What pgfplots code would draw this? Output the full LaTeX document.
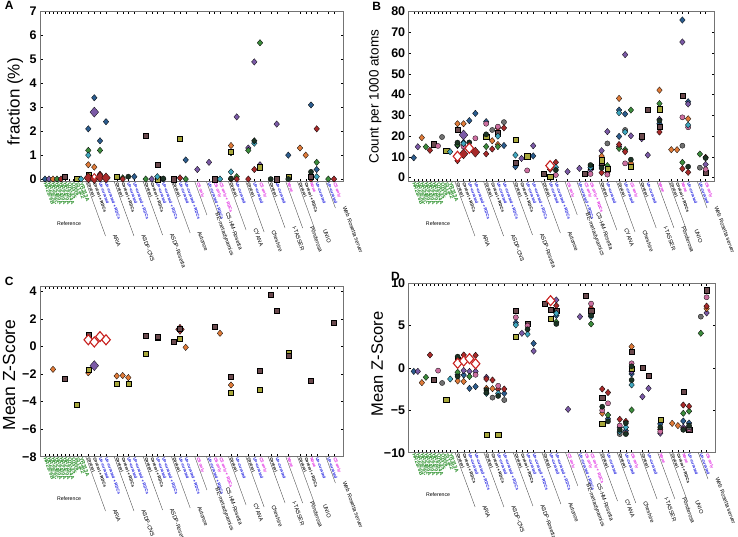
\documentclass[border=0pt]{standalone}
\usepackage{fontspec}
\setmainfont{Liberation Sans}
\usepackage{pgfplots}
\pgfplotsset{compat=1.18}

\definecolor{cblue}{HTML}{2C5D8F}
\definecolor{cpurple}{HTML}{7B5AA6}
\definecolor{corange}{HTML}{E07B39}
\definecolor{cgreen}{HTML}{3C8C3C}
\definecolor{cred}{HTML}{A82A2A}
\definecolor{cbrown}{HTML}{6B4A4E}
\definecolor{cpink}{HTML}{CC6FA0}
\definecolor{cgray}{HTML}{707070}
\definecolor{colive}{HTML}{A8A83C}
\definecolor{cteal}{HTML}{3FA7BF}
\definecolor{cdark}{HTML}{1C3324}
\definecolor{hred}{HTML}{C8201E}
\definecolor{lblue}{HTML}{1F1FE0}
\definecolor{lmag}{HTML}{E020E0}
\definecolor{lgreen}{HTML}{1F8A1F}

\newcommand{\Ctl}{Control}
\newcommand{\CtlR}{Control + RDCs}
\newcommand{\Unc}{\textcolor{lblue}{Un-curated}}
\newcommand{\UncR}{\textcolor{lblue}{Un-curated + RDCs}}
\newcommand{\CS}{\textcolor{lmag}{CS only}}
\newcommand{\CSR}{\textcolor{lmag}{CS only + RDCs}}
\newcommand{\Non}{\textcolor{lmag}{None}}
\newcommand{\Rf}[1]{{\fontsize{5.2}{5.5}\selectfont\textcolor{lgreen}{#1}}}

\newcommand{\gname}{\fontsize{5.6}{6}\selectfont}
\newcommand{\gl}[3]{\draw[black!75, line width=0.35pt] (#1pt,0pt) -- ++(-70:#2pt);
  \path (#1pt,0pt) ++(-70:#2pt) ++(7pt,1pt) node[rotate=-70, anchor=south west, inner sep=0pt, font=\gname] {#3};}
\newcommand{\grouplabels}{%
 \gl{45.8}{57.8}{ARIA}
 \gl{74.2}{57.8}{ASDP-CNS}
 \gl{103.2}{56.7}{ASDP-Rosetta}
 \gl{131.5}{54.6}{Autonoe}
 \gl{154.8}{35.4}{BE-metadynamics}
 \gl{166.5}{34.4}{CS-HM-Rosetta}
 \gl{188.5}{51.4}{CYANA}
 \gl{205.8}{53.5}{Cheshire}
 \gl{228.2}{49.3}{I-TASSER}
 \gl{245.8}{49.3}{Ponderosa}
 \gl{257.5}{52.5}{UNIO}
 \gl{285.8}{28.0}{Web Rosetta server}
 \node[font=\fontsize{5.2}{5.5}\selectfont] at (29pt,-42.3pt) {Reference};
}

\pgfplotsset{
 pan/.style={scale only axis, xmin=40, xmax=343, clip=false,
   axis line style={draw=black!55, line width=0.5pt},
   tick align=inside, major tick length=2.5pt,
   every tick/.style={black, line width=0.4pt},
   xtick={45,49,53,57,61,65,69,73,77,81,88.3,94.3,100,106,116.7,122.7,128.3,134.3,145.7,151.7,157.3,163.3,174,180,185.7,197.3,209,214.5,220,231,236.7,248.3,254.3,260,270.7,276.7,288.3,300,305.7,311,316.7,328.3,334},
   xticklabels={\Rf{HR2876B},\Rf{HR2876C},\Rf{HR5460A},\Rf{HR6430A},\Rf{HR6470A},\Rf{HR8254A},\Rf{OR135},\Rf{OR36},\Rf{StT322},\Rf{YR313A},
     \Ctl,\CtlR,\Unc,\UncR,
     \Ctl,\CtlR,\Unc,\UncR,
     \Ctl,\CtlR,\Unc,\UncR,
     \Ctl,\Unc,\UncR,
     \CS,
     \UncR,\CS,\CSR,
     \Ctl,\Unc,
     \Ctl,\Unc,\CS,
     \Ctl,\Unc,
     \Non,
     \Ctl,\CtlR,\Non,\Unc,
     \Unc,\CS},
   xticklabel style={rotate=-70, anchor=west, font=\fontsize{4.2}{4.4}\selectfont\bfseries, inner sep=0.8pt},
   yticklabel style={font=\fontsize{12.5}{13}\selectfont\bfseries},
 },
 dm/.style={only marks, mark=diamond*, mark size=3.2pt, mark options={draw=black, line width=0.3pt, fill=#1, xscale=1.15}},
 sq/.style={only marks, mark=square*, mark size=2.6pt, mark options={draw=black, line width=0.3pt, fill=#1}},
 ci/.style={only marks, mark=*, mark size=2.6pt, mark options={draw=black, line width=0.3pt, fill=#1}},
 bigdm/.style={only marks, mark=diamond*, mark size=5pt, mark options={draw=black, line width=0.3pt, fill=#1, xscale=1.15}},
 hol/.style={only marks, mark=diamond*, mark size=5pt, mark options={draw=hred, line width=1.1pt, fill=white, xscale=1.15}},
}

\begin{document}
\begin{tikzpicture}
\useasboundingbox (0pt,0pt) rectangle (738pt,537pt);

% ---------------- Panel A ----------------
\begin{axis}[pan, at={(40pt,355.3pt)}, anchor=south west, width=303pt, height=170pt,
  ymin=-0.11, ymax=7, ytick={0,1,2,3,4,5,6,7}, yticklabels={0,1,2,3,4,5,6,7}]
\addplot[dm=cblue] coordinates {(45,0) (88.3,2.1) (94.3,3.4) (100,1.6) (106,2.4) (134.3,0.1) (163.3,0) (185.7,0.8) (288.3,1.0) (311,3.1) (316.7,0.4)};
\addplot[dm=cpurple] coordinates {(49,0) (151.7,0) (197.3,0.4) (209,0.7) (236.7,2.6) (248.3,1.3) (254.3,4.9) (260,0.6) (276.7,2.3)};
\addplot[dm=corange] coordinates {(53,0) (88.3,0.6) (94.3,0.5) (231,1.4) (300,1.3) (305.7,1.0)};
\addplot[dm=cgreen] coordinates {(57,0) (88.3,1.2) (100,1.2) (122.7,0.05) (145.7,0) (185.7,0) (231,1.1) (236.7,0.1) (248.3,1.2) (260,5.7) (316.7,0.7) (328.3,0)};
\addplot[dm=cred] coordinates {(61,0) (100,0.2) (122.7,0) (180,0.05) (231,0) (236.7,0) (248.3,0) (254.3,0.4) (311,0) (316.7,2.1) (334,0)};
\addplot[sq=cbrown] coordinates {(65,0.1) (145.7,1.8) (157.3,0.6) (174,0) (214.5,0) (276.7,0) (311,0.1)};
\addplot[sq=colive] coordinates {(77,0.03) (88.3,0.2) (116.7,0.1) (157.3,0) (180,1.7) (231,1.15) (260,0.5) (288.3,0.1)};
\addplot[dm=cteal] coordinates {(81,0) (88.3,1.0) (157.3,0.1) (220,0) (231,0.3) (254.3,1.5) (316.7,0.1)};
\addplot[ci=cdark] coordinates {(128.3,0.1) (163.3,0.02) (231,0.02) (270.7,0) (288.3,0) (311,0.3)};
\addplot[dm=cdark] coordinates {(254.3,1.6)};
\addplot[bigdm=cred] coordinates {(88.3,0.05) (94.3,0.02) (100,0.08) (106,0.05)};
\addplot[bigdm=cpurple] coordinates {(94.3,2.8)};
\addplot[only marks, mark=diamond*, mark size=3pt, mark options={draw=hred, line width=0.8pt, fill=white}] coordinates {(94.3,0.1)};
\end{axis}

% ---------------- Panel B ----------------
\begin{axis}[pan, at={(408.7pt,355.3pt)}, anchor=south west, width=306pt, height=170pt,
  ymin=-1.93, ymax=80, ytick={0,10,20,30,40,50,60,70,80}, yticklabels={0,10,20,30,40,50,60,70,80}]
\addplot[dm=cblue] coordinates {(45,9.6) (88.3,15.5) (94.3,17) (100,27.5) (106,31) (116.7,27) (134.3,15.5) (145.7,5.3) (163.3,10.5) (231,6) (248.3,32.6) (248.3,19.9) (254.3,30.7) (288.3,26) (311,76) (316.7,36.6)};
\addplot[dm=cpurple] coordinates {(49,14.9) (88.3,16) (151.7,9.3) (163.3,15.4) (197.3,2.9) (209,4.5) (220,3.7) (231,13) (236.7,22.2) (248.3,15) (254.3,59.3) (260,20.2) (270.7,18.8) (276.7,10.9) (288.3,28.1) (311,65.4) (316.7,35.5) (334,6.4)};
\addplot[dm=corange] coordinates {(53,19.3) (88.3,26) (94.3,26) (122.7,17.8) (128.3,16) (231,10.4) (248.3,38.2) (260,7) (288.3,42.2) (300,13.5) (305.7,13.5) (316.7,28.4)};
\addplot[dm=cgreen] coordinates {(57,14.9) (88.3,16) (116.7,15) (128.3,15) (236.7,5.8) (248.3,14.1) (254.3,13.5) (260,32.6) (288.3,35.7) (311,7.4) (328.3,11.4)};
\addplot[dm=cred] coordinates {(61,13.2) (88.3,8.2) (116.7,11.5) (122.7,13.8) (128.3,24) (134.3,24) (180,4) (185.7,7.4) (231,2.4) (236.7,2.5) (248.3,16) (254.3,12.5) (288.3,22) (311,4.3) (316.7,2.6) (334,9.8)};
\addplot[sq=cbrown] coordinates {(65,16.2) (88.3,23.3) (128.3,21.5) (145.7,7.4) (157.3,10.5) (174,1.8) (214.5,1.8) (220,5.5) (231,7.2) (270.7,20) (276.7,32.9) (288.3,24.5) (311,39.4) (334,2.5)};
\addplot[ci=cpink] coordinates {(69,15.3) (94.3,15) (106,19) (116.7,26) (128.3,24.6) (157.3,3.5) (185.7,1.3) (220,1.8) (236.7,1.5) (254.3,6.9) (311,29.1) (316.7,24.3) (334,4)};
\addplot[ci=cgray] coordinates {(73,19.6) (122.7,23) (134.3,26.8) (236.7,16.5) (254.3,23) (311,15.4) (328.3,4.8)};
\addplot[sq=colive] coordinates {(77,13) (116.7,19.8) (145.7,18.2) (157.3,10.4) (180,0.5) (231,8.5) (236.7,4.5) (260,5.3) (288.3,33)};
\addplot[dm=cteal] coordinates {(81,12.5) (94.3,16.5) (128.3,20) (145.7,10.9) (185.7,5) (220,5) (248.3,31.3) (254.3,22) (316.7,25.4)};
\addplot[ci=cdark] coordinates {(88.3,16.9) (100,17) (116.7,20.9) (185.7,3.7) (220,6.1) (231,4.7) (260,8.7) (288.3,27.5) (316.7,5.3) (334,9.5)};
\addplot[bigdm=cred] coordinates {(94.3,11.5) (106,12.3)};
\addplot[bigdm=cpurple] coordinates {(94.3,20.6)};
\addplot[hol] coordinates {(88.3,10.3) (100,14.2) (180,5.8)};
\end{axis}

% ---------------- Panel C ----------------
\begin{axis}[pan, at={(40pt,80.3pt)}, anchor=south west, width=303pt, height=170.7pt,
  ymin=-8, ymax=4.41, ytick={-8,-6,-4,-2,0,2,4}, yticklabels={−8,−6,−4,−2,0,2,4}]
\addplot[dm=corange] coordinates {(53,-1.65) (88.3,-1.9) (116.7,-2.13) (122.7,-2.1) (128.3,-2.25) (185.7,-0.05) (220,0.97) (231,-2.79)};
\addplot[sq=colive] coordinates {(77,-4.2) (88.3,-1.65) (116.7,-2.67) (128.3,-2.7) (145.7,-0.53) (157.3,0.65) (180,0.6) (231,-3.35) (260,-3.15) (288.3,-0.44)};
\addplot[bigdm=cred] coordinates {(180,1.26)};
\addplot[sq=cbrown] coordinates {(65,-2.3) (88.3,0.9) (145.7,0.78) (157.3,0.73) (174,0.36) (180,1.3) (214.5,1.45) (231,-2.18) (260,-1.75) (270.7,3.76) (276.7,2.6) (288.3,-0.65) (311,-2.5) (334,1.77)};
\addplot[bigdm=cpurple] coordinates {(94.3,-1.38)};
\addplot[hol] coordinates {(88.3,0.5) (94.3,0.34) (100,0.73) (106,0.5)};
\end{axis}

% ---------------- Panel D ----------------
\begin{axis}[pan, at={(408.7pt,84.3pt)}, anchor=south west, width=307pt, height=169.4pt,
  ymin=-10, ymax=10, ytick={-10,-5,0,5,10}, yticklabels={−10,−5,0,5,10}]
\addplot[dm=cblue] coordinates {(45,-0.4) (88.3,-0.8) (94.3,-0.83) (100,-2.4) (106,-2.2) (134.3,-3.0) (145.7,5.35) (163.3,2.9) (185.7,6.2) (220,6.38) (236.7,-6.0) (248.3,-7.0) (254.3,-7.4) (260,-0.7) (288.3,-6.6) (311,-6.26) (316.7,-6.5)};
\addplot[dm=cpurple] coordinates {(49,-0.4) (94.3,-0.3) (100,-0.4) (106,-0.4) (116.7,-1.1) (151.7,4.1) (163.3,2.0) (185.7,8.03) (197.3,-4.88) (209,6.06) (248.3,-7.6) (260,-0.4) (270.7,-3.39) (276.7,-2.4) (288.3,-7.7) (311,-7.0) (334,6.5)};
\addplot[dm=corange] coordinates {(53,-1.73) (88.3,-1.53) (94.3,-1.6) (116.7,-2.4) (122.7,-2.44) (231,-5.35) (260,2.52) (300,-6.54) (305.7,-6.8) (334,7.0)};
\addplot[dm=cgreen] coordinates {(57,-1.1) (88.3,-0.5) (100,-1.0) (185.7,5.43) (220,5.2) (236.7,-5.55) (260,-4.96) (311,-5.35) (316.7,-5.1) (328.3,4.1)};
\addplot[dm=cred] coordinates {(61,1.54) (94.3,1.54) (100,1.2) (106,1.5) (116.7,-1.3) (122.7,-1.42) (128.3,-2.5) (134.3,-2.48) (185.7,7.36) (220,7.05) (231,-2.48) (236.7,-2.9) (248.3,-6.06) (254.3,-6.3) (288.3,-7.24) (311,-4.37) (316.7,-4.53) (334,7.3)};
\addplot[sq=cbrown] coordinates {(65,-1.34) (88.3,1.0) (145.7,6.73) (157.3,5.28) (174,7.64) (180,6.85) (185.7,6.8) (214.5,8.5) (220,6.8) (231,-3.5) (260,1.93) (270.7,0) (276.7,-0.87) (288.3,-6.1) (311,-2.8) (316.7,-7.3) (334,9.2)};
\addplot[ci=cpink] coordinates {(69,-0.31) (106,-0.8) (128.3,-2.1) (145.7,5.98) (157.3,5.0) (220,7.6) (231,-5.0) (236.7,-4.17) (248.3,-6.8) (254.3,-7.7) (260,0.55) (288.3,-7.5) (311,-7.2) (316.7,-7.2) (334,8.35)};
\addplot[ci=cgray] coordinates {(73,-1.77) (122.7,-3.5) (134.3,-3.78) (248.3,-7.8) (316.7,-7.0) (328.3,6.06)};
\addplot[sq=colive] coordinates {(77,-3.74) (116.7,-7.9) (128.3,-7.9) (145.7,3.7) (180,5.87) (231,-6.54) (260,-0.04) (288.3,-6.14)};
\addplot[dm=cteal] coordinates {(81,-1.3) (116.7,-3.0) (128.3,-3.0) (145.7,5.08) (157.3,4.0) (185.7,6.46) (220,6.06) (248.3,-7.5) (254.3,-7.0) (260,-2.0)};
\addplot[ci=cdark] coordinates {(88.3,1.34) (88.3,-1.0) (116.7,-2.6) (116.7,-2.9) (128.3,-3.3) (157.3,4.57) (185.7,5.2) (220,6.2) (231,-4.57) (236.7,-6.3) (248.3,-7.3) (254.3,-6.5) (254.3,-7.8) (260,0.2) (260,-1.42) (288.3,-7.0) (311,-7.3) (316.7,-6.8)};
\addplot[hol] coordinates {(88.3,0.55) (94.3,0.83) (100,1.1) (106,0.5) (180,7.95)};
\end{axis}

% group labels under each panel
\begin{scope}[shift={(40pt,355.3pt)}] \grouplabels \end{scope}
\begin{scope}[shift={(408.7pt,355.3pt)}, xscale=1.0099] \grouplabels \end{scope}
\begin{scope}[shift={(40pt,80.3pt)}] \grouplabels \end{scope}
\begin{scope}[shift={(408.7pt,84.3pt)}, xscale=1.0132] \grouplabels \end{scope}

% y labels
\node[rotate=90, font=\fontsize{17}{17}\selectfont] at (15.3pt,435.3pt) {fraction (\%)};
\node[rotate=90, font=\fontsize{13.5}{14}\selectfont] at (375.3pt,440.3pt) {Count per 1000 atoms};
\node[rotate=90, font=\fontsize{17.5}{18}\selectfont] at (9pt,162pt) {Mean Z-Score};
\node[rotate=90, font=\fontsize{16.5}{17}\selectfont] at (377.3pt,173pt) {Mean Z-Score};

% panel letters
\node[font=\fontsize{12}{12}\selectfont\bfseries] at (9.2pt,531.2pt) {A};
\node[font=\fontsize{12}{12}\selectfont\bfseries] at (376.8pt,530.3pt) {B};
\node[font=\fontsize{12}{12}\selectfont\bfseries] at (9.2pt,255.3pt) {C};
\node[font=\fontsize{12}{12}\selectfont\bfseries] at (395.5pt,260.3pt) {D};
\end{tikzpicture}
\end{document}
